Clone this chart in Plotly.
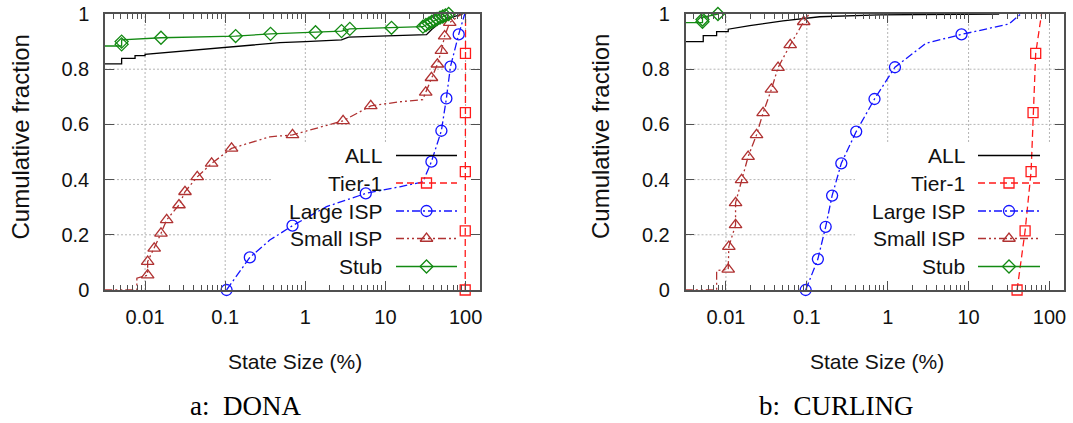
import math
import plotly.graph_objects as go

# ---------------- DONA: cumulative fraction vs. state size (%) ----------------
dona_all_x = [0.0031, 0.0051, 0.0051, 0.0075, 0.0075, 0.0100, 0.0100, 0.03, 0.101, 0.25, 0.48,
              1.0, 2.83, 3.46, 8.0, 15.1, 32.5, 38, 45, 55, 70, 92]
dona_all_y = [0.819, 0.819, 0.839, 0.839, 0.849, 0.849, 0.854, 0.866, 0.878, 0.888, 0.896,
              0.900, 0.906, 0.916, 0.919, 0.922, 0.925, 0.945, 0.962, 0.977, 0.990, 1.000]
dona_all_marks = []

dona_tier1_x = [98.9, 99.1, 99.3, 99.5, 99.7, 99.9]
dona_tier1_y = [0.000, 0.214, 0.429, 0.643, 0.857, 1.000]
dona_tier1_marks = [0, 1, 2, 3, 4]

dona_large_x = [0.104, 0.203, 0.36, 0.692, 1.84, 5.68, 15.1, 29.4, 37.5, 49.9, 57.6, 64.7, 82.1, 97.5]
dona_large_y = [0.000, 0.118, 0.181, 0.233, 0.302, 0.350, 0.374, 0.392, 0.465, 0.577, 0.694,
                0.809, 0.926, 1.000]
dona_large_marks = [0, 1, 3, 5, 8, 9, 10, 11, 12]

dona_small_x = [0.0031, 0.0079, 0.0079, 0.01077, 0.01077, 0.0130, 0.0158, 0.0186, 0.0265, 0.0315,
                0.0448, 0.0677, 0.120, 0.36, 0.692, 2.96, 6.56, 15.1, 29.2, 31.8, 37.5, 44.5,
                49.9, 54.8, 63.4, 89.0]
dona_small_y = [0.000, 0.000, 0.043, 0.054, 0.103, 0.151, 0.205, 0.254, 0.308, 0.356,
                0.410, 0.459, 0.513, 0.555, 0.562, 0.613, 0.667, 0.682, 0.690, 0.716, 0.769, 0.818,
                0.867, 0.920, 0.969, 1.000]
dona_small_marks = [3, 4, 5, 6, 7, 8, 9, 10, 11, 12, 14, 15, 16, 19, 20, 21, 22, 23, 24]

dona_stub_x = [0.0031, 0.0051, 0.0051, 0.0051, 0.0051, 0.0158, 0.135, 0.368, 1.34, 2.83, 3.59,
               11.9, 29.4, 32, 35, 38, 41, 44, 48, 52, 56, 61.5]
dona_stub_y = [0.884, 0.884, 0.890, 0.900, 0.906, 0.914, 0.920, 0.928, 0.934, 0.938, 0.946,
               0.950, 0.954, 0.960, 0.966, 0.972, 0.977, 0.982, 0.987, 0.991, 0.995, 1.000]
dona_stub_marks = [2, 3, 5, 6, 7, 8, 9, 10, 11, 12, 13, 14, 15, 16, 17, 18, 19, 20, 21]

# ---------------- CURLING ----------------
curl_all_x = [0.0031, 0.00524, 0.00524, 0.00767, 0.00767, 0.01067, 0.01067, 0.0197, 0.0508,
              0.0889, 0.144, 0.79, 23.9]
curl_all_y = [0.900, 0.900, 0.922, 0.922, 0.936, 0.936, 0.945, 0.958, 0.975, 0.984, 0.990,
              0.997, 1.000]
curl_all_marks = []

curl_tier1_x = [39.8, 50.0, 59.3, 62.7, 67.6, 79.8]
curl_tier1_y = [0.000, 0.214, 0.429, 0.643, 0.857, 1.000]
curl_tier1_marks = [0, 1, 2, 3, 4]

curl_large_x = [0.0968, 0.137, 0.171, 0.2055, 0.267, 0.408, 0.687, 1.23, 2.98, 8.18, 31.7, 44.2]
curl_large_y = [0.000, 0.112, 0.229, 0.342, 0.459, 0.574, 0.692, 0.807, 0.894, 0.926, 0.964, 1.000]
curl_large_marks = [0, 1, 2, 3, 4, 5, 6, 7, 9]

curl_small_x = [0.0031, 0.00767, 0.00767, 0.01067, 0.01086, 0.01315, 0.01315, 0.0156, 0.0188,
                0.0239, 0.0288, 0.0365, 0.0441, 0.0623, 0.0915, 0.107]
curl_small_y = [0.000, 0.000, 0.070, 0.075, 0.157, 0.236, 0.316, 0.399, 0.483,
                0.562, 0.642, 0.727, 0.806, 0.888, 0.972, 1.000]
curl_small_marks = [3, 4, 5, 6, 7, 8, 9, 10, 11, 12, 13, 14]

curl_stub_x = [0.0031, 0.00513, 0.00513, 0.00513, 0.00513, 0.00796]
curl_stub_y = [0.969, 0.969, 0.972, 0.980, 0.988, 1.000]
curl_stub_marks = [2, 3, 5]

series_names = ["ALL", "Tier-1", "Large ISP", "Small ISP", "Stub"]
x_tick_vals = [0.01, 0.1, 1, 10, 100]
x_tick_text = ["0.01", "0.1", "1", "10", "100"]
y_tick_vals = [0, 0.2, 0.4, 0.6, 0.8, 1.0]
y_tick_text = ["0", "0.2", "0.4", "0.6", "0.8", "1"]
captions = ["a:  DONA", "b:  CURLING"]

panels = [
    dict(series=[(dona_all_x, dona_all_y, dona_all_marks),
                 (dona_tier1_x, dona_tier1_y, dona_tier1_marks),
                 (dona_large_x, dona_large_y, dona_large_marks),
                 (dona_small_x, dona_small_y, dona_small_marks),
                 (dona_stub_x, dona_stub_y, dona_stub_marks)],
         left=105, right=480, key_left=273, caption_x=245),
    dict(series=[(curl_all_x, curl_all_y, curl_all_marks),
                 (curl_tier1_x, curl_tier1_y, curl_tier1_marks),
                 (curl_large_x, curl_large_y, curl_large_marks),
                 (curl_small_x, curl_small_y, curl_small_marks),
                 (curl_stub_x, curl_stub_y, curl_stub_marks)],
         left=685.5, right=1064, key_left=855, caption_x=836),
]

# ---------------- styling ----------------
W, H = 1073, 423
TOP, BOTTOM = 14, 290
X_RANGE = [-2.5, 2.18]
FRAME = "#505050"
GRID = "#b4b4b4"
SANS = "Liberation Sans, Arial, sans-serif"
SERIF = "Liberation Serif, Times New Roman, serif"

styles = {
    "ALL":       dict(color="#000000", dash="solid", symbol=None),
    "Tier-1":    dict(color="#ff1a1a", dash="7px,4px", symbol="square-open"),
    "Large ISP": dict(color="#1414ff", dash="8px,3px,2px,3px", symbol="circle-open"),
    "Small ISP": dict(color="#b03232", dash="8px,3px,2px,3px,2px,3px", symbol="triangle-up-open"),
    "Stub":      dict(color="#138a13", dash="solid", symbol="diamond-open"),
}
marker_size = {"Tier-1": 10, "Large ISP": 11, "Small ISP": 11, "Stub": 10}

minor_vals = [m * 10.0 ** e for e in range(-3, 3) for m in range(2, 10)
              if 10 ** X_RANGE[0] < m * 10.0 ** e < 10 ** X_RANGE[1]]

fig = go.Figure()
layout_axes = {}
annotations = []
shapes = []

for p_i, panel in enumerate(panels):
    ax = "" if p_i == 0 else str(p_i + 1)
    xref, yref = "x" + ax, "y" + ax
    xdom = [panel["left"] / W, panel["right"] / W]
    ydom = [(H - BOTTOM) / H, (H - TOP) / H]

    layout_axes["xaxis" + ax] = dict(
        type="log", range=X_RANGE, domain=xdom, anchor=yref,
        showline=True, linecolor=FRAME, linewidth=1.5, mirror="allticks",
        ticks="inside", ticklen=9, tickwidth=1.2, tickcolor=FRAME,
        tickmode="array", tickvals=x_tick_vals, ticktext=x_tick_text,
        tickfont=dict(family=SANS, size=20, color="#111111"), ticklabelstandoff=8,
        showgrid=False, automargin=False,
        minor=dict(tickmode="array", tickvals=minor_vals, ticks="inside", ticklen=5,
                   tickwidth=1.2, tickcolor=FRAME, showgrid=False),
        zeroline=False, fixedrange=True,
    )
    layout_axes["yaxis" + ax] = dict(
        range=[0, 1], domain=ydom, anchor=xref,
        showline=True, linecolor=FRAME, linewidth=1.5, mirror="allticks",
        ticks="inside", ticklen=9, tickwidth=1.2, tickcolor=FRAME,
        tickmode="array", tickvals=y_tick_vals, ticktext=y_tick_text,
        tickfont=dict(family=SANS, size=20, color="#111111"), ticklabelstandoff=10,
        showgrid=False, zeroline=False, fixedrange=True, automargin=False,
    )

    # dotted grid at the major ticks
    span = X_RANGE[1] - X_RANGE[0]
    for v in x_tick_vals:
        f = (math.log10(v) - X_RANGE[0]) / span
        shapes.append(dict(type="line", xref=xref + " domain", yref=yref + " domain",
                           x0=f, x1=f, y0=0, y1=1, layer="below",
                           line=dict(color=GRID, width=1, dash="2px,2px")))
    for v in y_tick_vals[1:-1]:
        shapes.append(dict(type="line", xref=xref + " domain", yref=yref + " domain",
                           x0=0, x1=1, y0=v, y1=v, layer="below",
                           line=dict(color=GRID, width=1, dash="2px,2px")))

    # opaque key box: hides the grid, curves still pass over it
    width_px = panel["right"] - panel["left"]
    shapes.append(dict(type="rect", xref=xref + " domain", yref=yref + " domain",
                       x0=(panel["key_left"] - panel["left"]) / width_px, x1=0.997,
                       y0=0.004, y1=(BOTTOM - 142) / (BOTTOM - TOP),
                       fillcolor="white", line=dict(width=0), layer="below"))

    for name, (xs, ys, marks) in zip(series_names, panel["series"]):
        st = styles[name]
        fig.add_trace(go.Scatter(
            x=xs, y=ys, mode="lines", xaxis=xref, yaxis=yref, showlegend=False,
            line=dict(color=st["color"], width=1.3, dash=st["dash"]), hoverinfo="skip"))
        if marks:
            fig.add_trace(go.Scatter(
                x=[xs[i] for i in marks], y=[ys[i] for i in marks], mode="markers",
                xaxis=xref, yaxis=yref, showlegend=False, cliponaxis=False,
                marker=dict(symbol=st["symbol"], size=marker_size[name], color=st["color"],
                            line=dict(width=1.3, color=st["color"])), hoverinfo="skip"))

# overlay axes in pixel units, used for the keys and text
layout_axes["xaxis3"] = dict(domain=[0, 1], range=[0, W], visible=False, fixedrange=True,
                             anchor="y3", automargin=False)
layout_axes["yaxis3"] = dict(domain=[0, 1], range=[H, 0], visible=False, fixedrange=True,
                             anchor="x3", automargin=False)

key_rows = [155.5, 183, 211, 238.5, 266.5]
key_geom = [(383.5, 396, 457), (966.5, 978, 1040)]
for (text_right, line_l, line_r) in key_geom:
    for name, row in zip(series_names, key_rows):
        st = styles[name]
        fig.add_trace(go.Scatter(
            x=[line_l, line_r], y=[row, row], mode="lines", xaxis="x3", yaxis="y3",
            showlegend=False, line=dict(color=st["color"], width=1.3, dash=st["dash"]),
            hoverinfo="skip"))
        if st["symbol"]:
            fig.add_trace(go.Scatter(
                x=[(line_l + line_r) / 2], y=[row], mode="markers", xaxis="x3", yaxis="y3",
                showlegend=False, cliponaxis=False,
                marker=dict(symbol=st["symbol"], size=marker_size[name], color=st["color"],
                            line=dict(width=1.3, color=st["color"])), hoverinfo="skip"))
        annotations.append(dict(x=text_right, y=row, xref="x3", yref="y3", text=name,
                                showarrow=False, xanchor="right", yanchor="middle",
                                font=dict(family=SANS, size=21, color="#111111")))

for panel, cap in zip(panels, captions):
    mid = (panel["left"] + panel["right"]) / 2
    annotations.append(dict(x=mid + 2, y=361, xref="x3", yref="y3", text="State Size (%)",
                            showarrow=False, xanchor="center", yanchor="middle",
                            font=dict(family=SANS, size=21, color="#111111")))
    annotations.append(dict(x=panel["left"] - 85.5, y=137, xref="x3", yref="y3",
                            text="Cumulative fraction", textangle=-90, showarrow=False,
                            xanchor="center", yanchor="middle",
                            font=dict(family=SANS, size=24, color="#111111")))
    annotations.append(dict(x=panel["caption_x"], y=406, xref="x3", yref="y3", text=cap,
                            showarrow=False, xanchor="center", yanchor="middle",
                            font=dict(family=SERIF, size=27, color="#000000")))

fig.update_layout(
    width=W, height=H, autosize=False,
    margin=dict(l=0, r=0, t=0, b=0, pad=0, autoexpand=False),
    paper_bgcolor="white", plot_bgcolor="rgba(0,0,0,0)",
    showlegend=False, annotations=annotations, shapes=shapes,
    **layout_axes,
)

fig.write_html("out.html")
